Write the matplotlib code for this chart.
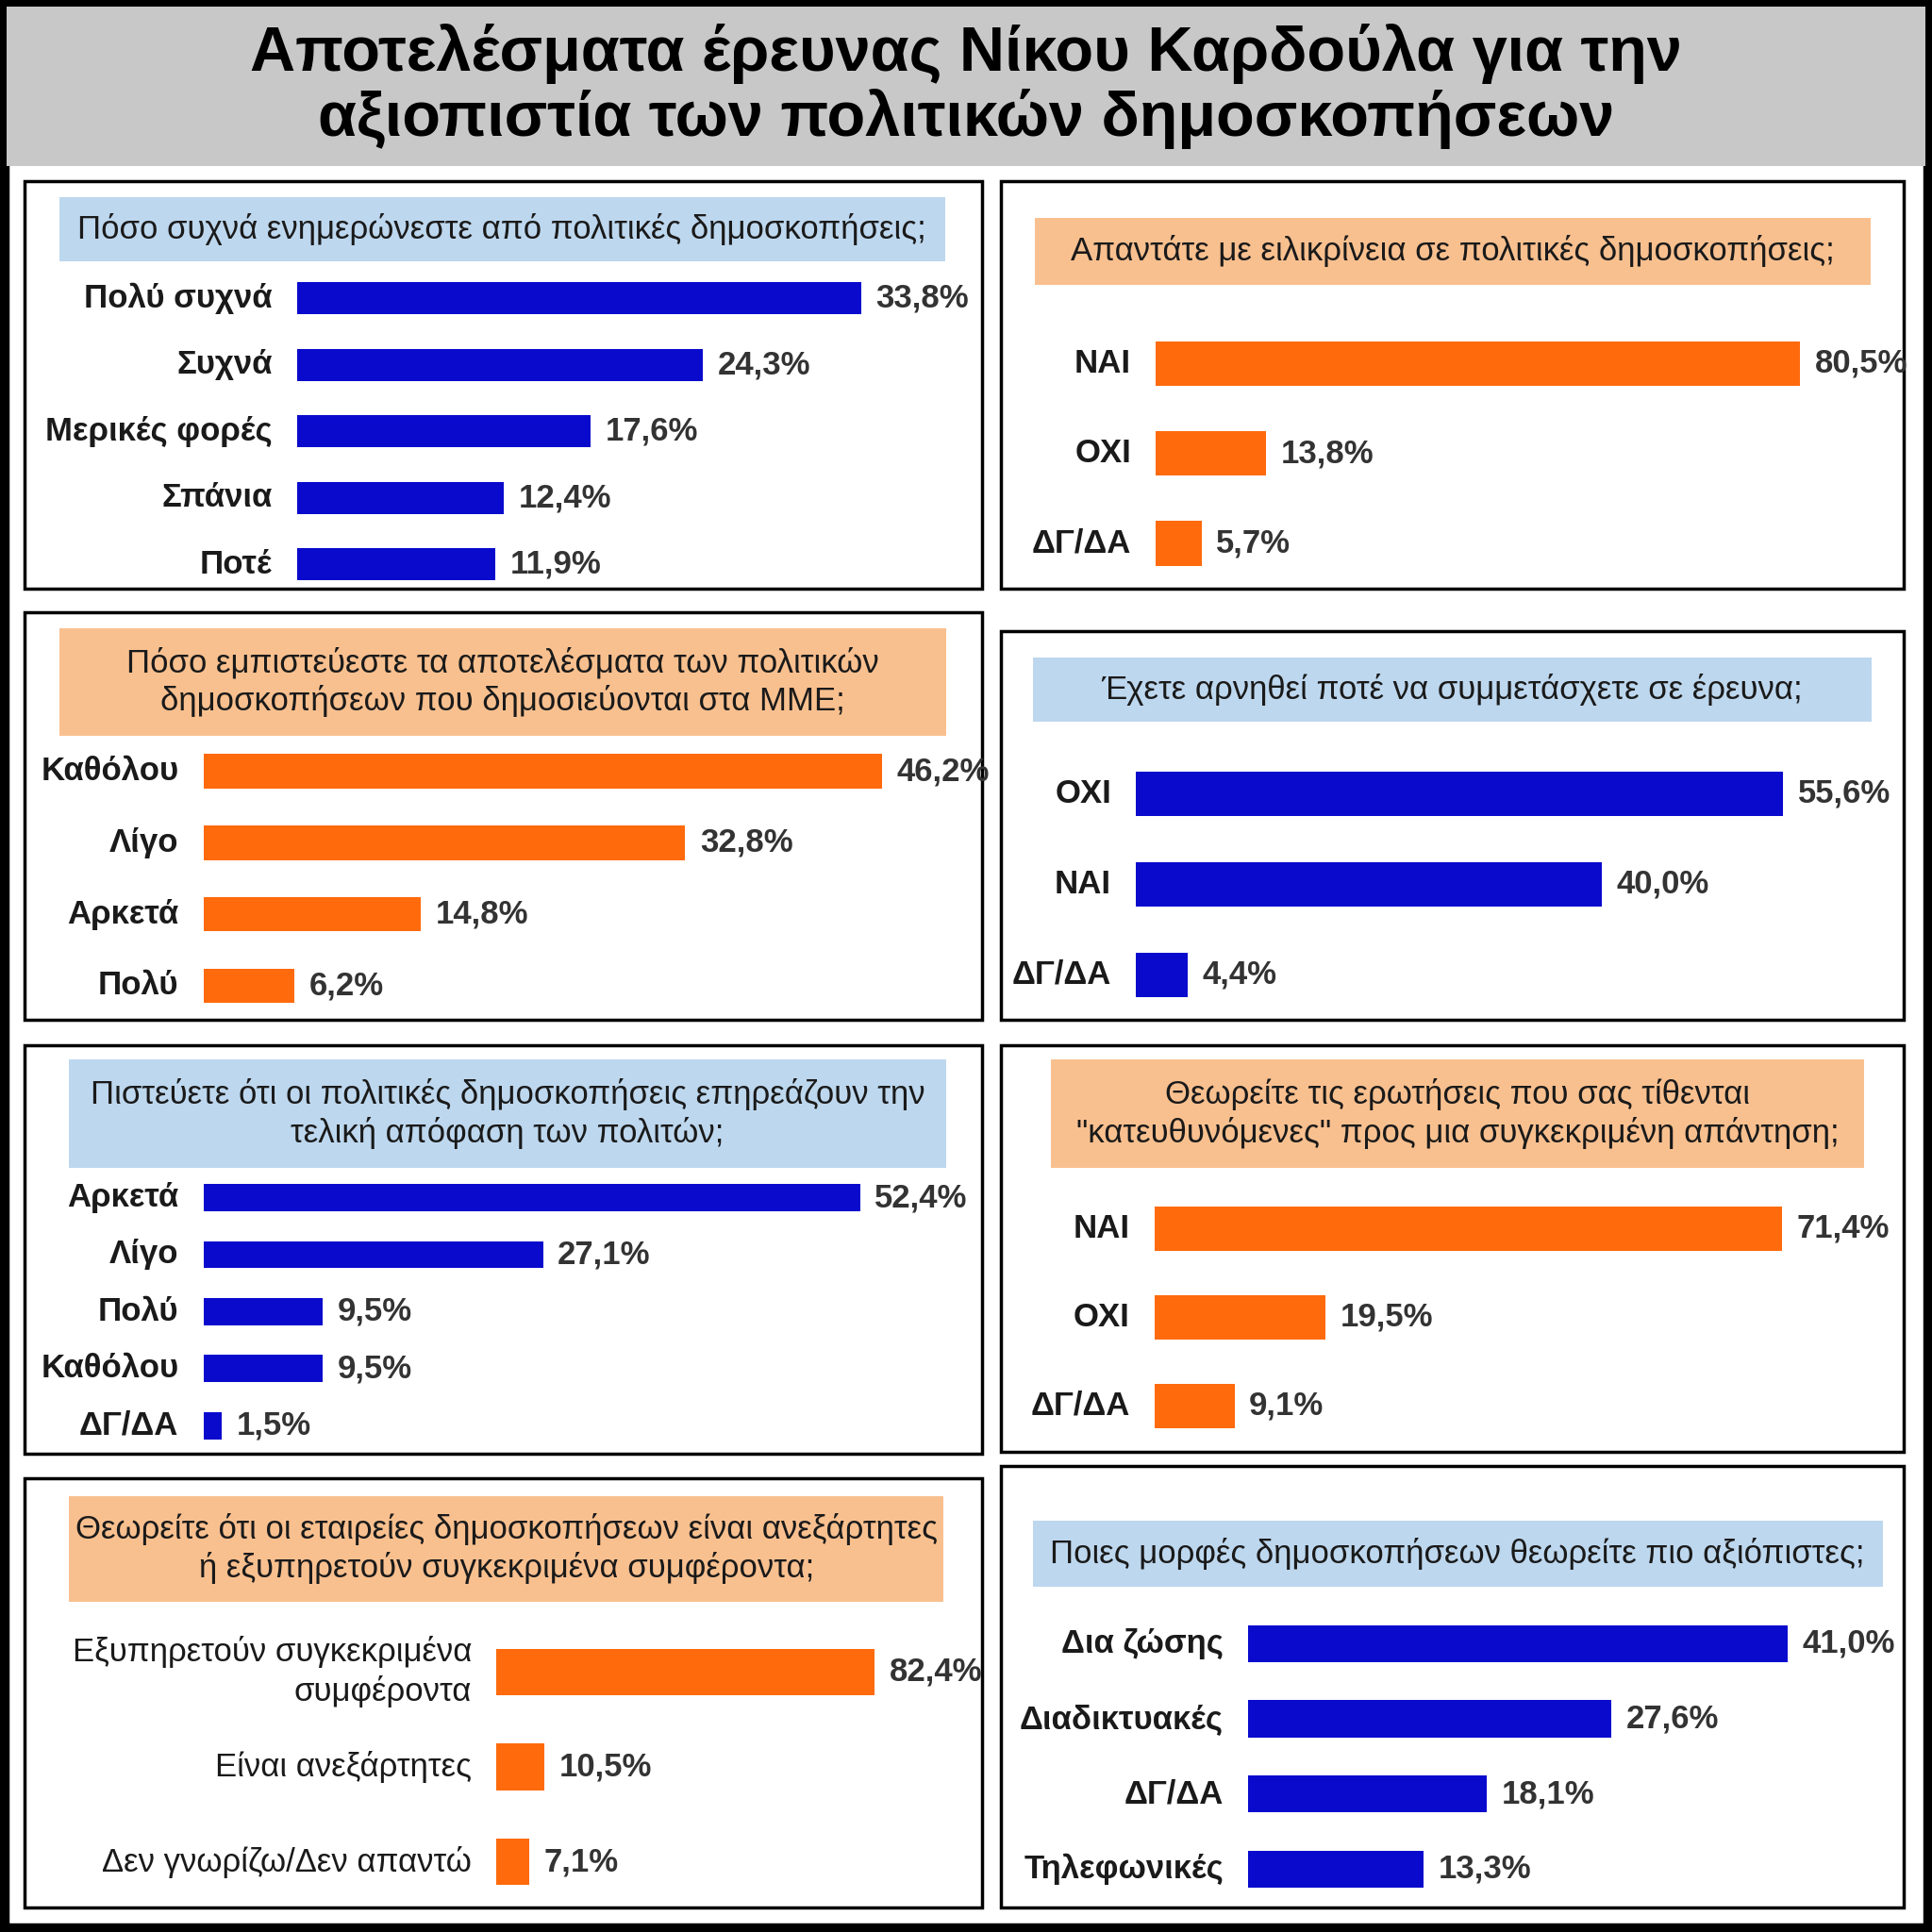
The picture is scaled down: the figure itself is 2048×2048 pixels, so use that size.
import matplotlib.pyplot as plt
from matplotlib.patches import Rectangle

S = 1568.0  # layout measured on a 1568 grid
BLUE = '#0A0ACD'
ORANGE = '#FF6A0C'
LBLUE = '#BDD7EE'
LORANGE = '#F9C08F'

plt.rcParams['font.family'] = ['Liberation Sans Narrow', 'Liberation Sans', 'DejaVu Sans']

title = "Αποτελέσματα έρευνας Νίκου Καρδούλα για την\nαξιοπιστία των πολιτικών δημοσκοπήσεων"

q1 = "Πόσο συχνά ενημερώνεστε από πολιτικές δημοσκοπήσεις;"
lab1 = ["Πολύ συχνά", "Συχνά", "Μερικές φορές", "Σπάνια", "Ποτέ"]
val1 = [33.8, 24.3, 17.6, 12.4, 11.9]

q2 = "Απαντάτε με ειλικρίνεια σε πολιτικές δημοσκοπήσεις;"
lab2 = ["ΝΑΙ", "ΟΧΙ", "ΔΓ/ΔΑ"]
val2 = [80.5, 13.8, 5.7]

q3 = "Πόσο εμπιστεύεστε τα αποτελέσματα των πολιτικών\nδημοσκοπήσεων που δημοσιεύονται στα ΜΜΕ;"
lab3 = ["Καθόλου", "Λίγο", "Αρκετά", "Πολύ"]
val3 = [46.2, 32.8, 14.8, 6.2]

q4 = "Έχετε αρνηθεί ποτέ να συμμετάσχετε σε έρευνα;"
lab4 = ["ΟΧΙ", "ΝΑΙ", "ΔΓ/ΔΑ"]
val4 = [55.6, 40.0, 4.4]

q5 = "Πιστεύετε ότι οι πολιτικές δημοσκοπήσεις επηρεάζουν την\nτελική απόφαση των πολιτών;"
lab5 = ["Αρκετά", "Λίγο", "Πολύ", "Καθόλου", "ΔΓ/ΔΑ"]
val5 = [52.4, 27.1, 9.5, 9.5, 1.5]

q6 = "Θεωρείτε τις ερωτήσεις που σας τίθενται\n\"κατευθυνόμενες\" προς μια συγκεκριμένη απάντηση;"
lab6 = ["ΝΑΙ", "ΟΧΙ", "ΔΓ/ΔΑ"]
val6 = [71.4, 19.5, 9.1]

q7 = "Θεωρείτε ότι οι εταιρείες δημοσκοπήσεων είναι ανεξάρτητες\nή εξυπηρετούν συγκεκριμένα συμφέροντα;"
lab7 = ["Εξυπηρετούν συγκεκριμένα\nσυμφέροντα", "Είναι ανεξάρτητες", "Δεν γνωρίζω/Δεν απαντώ"]
val7 = [82.4, 10.5, 7.1]

q8 = "Ποιες μορφές δημοσκοπήσεων θεωρείτε πιο αξιόπιστες;"
lab8 = ["Δια ζώσης", "Διαδικτυακές", "ΔΓ/ΔΑ", "Τηλεφωνικές"]
val8 = [41.0, 27.6, 18.1, 13.3]

fig = plt.figure(figsize=(20.48, 20.48), dpi=100)


def fx(x):
    return x / S


def fy(y):
    return 1 - y / S


def rect(x0, y0, x1, y1, **kw):
    fig.patches.append(Rectangle((fx(x0), fy(y1)), fx(x1 - x0), (y1 - y0) / S,
                                 transform=fig.transFigure, zorder=-1, **kw))


# outer frame and title band
rect(0, 0, S, S, facecolor='white', edgecolor='black', lw=14)
rect(5, 5, S - 5, 135, facecolor='#C8C8C8', edgecolor='none')
fig.text(0.5, fy(70), title, ha='center', va='center', fontsize=48,
         fontweight='bold', family=['Liberation Sans', 'DejaVu Sans'], linespacing=1.1)

panels = [
    ((20, 147, 797, 478), (48, 160, 767, 212), q1, lab1, val1, BLUE, LBLUE, 241, 699, [242, 297, 351, 405, 458], 26),
    ((812, 147, 1545, 478), (840, 177, 1518, 231), q2, lab2, val2, ORANGE, LORANGE, 938, 1461, [295, 368, 441], 36),
    ((20, 497, 797, 828), (48, 510, 768, 597), q3, lab3, val3, ORANGE, LORANGE, 165, 716, [626, 684, 742, 800], 28),
    ((812, 512, 1545, 828), (838, 534, 1519, 586), q4, lab4, val4, BLUE, LBLUE, 922, 1447, [644, 717, 791], 36),
    ((20, 848, 797, 1180), (56, 860, 768, 948), q5, lab5, val5, BLUE, LBLUE, 165, 698, [972, 1019, 1065, 1111, 1157], 22),
    ((812, 848, 1545, 1178), (853, 860, 1513, 948), q6, lab6, val6, ORANGE, LORANGE, 937, 1446, [997, 1069, 1141], 36),
    ((20, 1200, 797, 1548), (56, 1214, 766, 1300), q7, lab7, val7, ORANGE, LORANGE, 403, 710, [1357, 1434, 1511], 38),
    ((812, 1190, 1545, 1548), (838, 1234, 1528, 1288), q8, lab8, val8, BLUE, LBLUE, 1013, 1451, [1334, 1396, 1456, 1517], 30),
]

for box, hdr, q, labs, vals, col, hcol, x0, xm, cy, bh in panels:
    rect(*box, facecolor='none', edgecolor='black', lw=2.5)
    rect(*hdr, facecolor=hcol, edgecolor='none')
    fig.text(fx((hdr[0] + hdr[2]) / 2), fy((hdr[1] + hdr[3]) / 2), q, ha='center', va='center',
             fontsize=25, color='#1a1a1a', linespacing=1.25)
    n = len(vals)
    sp = (cy[-1] - cy[0]) / (n - 1)
    ax = fig.add_axes([fx(x0), fy(cy[-1] + sp / 2), fx(xm - x0), n * sp / S])
    ax.barh(range(n), vals, height=bh / sp, color=col)
    ax.set_xlim(0, max(vals))
    ax.set_ylim(n - 0.5, -0.5)
    ax.axis('off')
    off = 20 / (xm - x0) * max(vals)
    for i, (l, v) in enumerate(zip(labs, vals)):
        ax.text(v + off * 0.6, i, f"{v:.1f}%".replace('.', ','), va='center', ha='left',
                fontsize=25, fontweight='bold', color='#333333', clip_on=False)
        ax.text(-off, i, l, va='center', ha='right', fontsize=25,
                fontweight='bold' if col == BLUE or len(labs) != 3 or len(l) < 6 else 'normal',
                color='#1a1a1a', clip_on=False, linespacing=1.3)

fig.savefig('out.png', dpi=100)
